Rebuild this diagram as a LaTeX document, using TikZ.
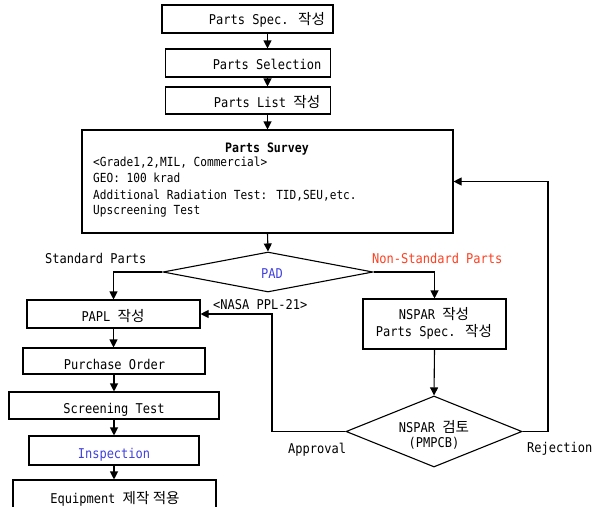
\documentclass[tikz,border=0pt]{standalone}
\usepackage{fontspec}
\setmainfont{DejaVu Sans Mono}[FakeStretch=0.89]
\newfontfamily\kr{Noto Sans CJK KR}[Scale=1.08]
\usetikzlibrary{arrows.meta,shapes.geometric}
\definecolor{pblue}{RGB}{64,64,224}
\definecolor{pred}{RGB}{255,64,32}
\tikzset{
  box/.style={draw, rectangle, line width=1.1pt, inner sep=0pt},
  dia/.style={draw, diamond, line width=1.1pt, inner sep=0pt},
  lbl/.style={inner sep=0pt, anchor=base, font=\fontsize{13.5}{16}\selectfont},
  lblw/.style={inner sep=0pt, anchor=base west, font=\fontsize{13.5}{16}\selectfont},
  sml/.style={inner sep=0pt, anchor=base west, font=\fontsize{12.5}{16}\selectfont},
  arr/.style={draw, line width=1.1pt, -{Triangle[length=8pt,width=8pt]}},
  ln/.style={draw, line width=1.1pt},
}
\begin{document}
\begin{tikzpicture}[x=1pt,y=-1pt]
\useasboundingbox (0,0) rectangle (601,506);
\clip (0,0) rectangle (601,506);
% boxes
\node[box, minimum width=171pt, minimum height=28pt] (b1) at (247.5,19) {};
\node[box, minimum width=165pt, minimum height=28pt] (b2) at (248,63) {};
\node[box, minimum width=165pt, minimum height=27pt] (b3) at (248,100.5) {};
\node[box, minimum width=371pt, minimum height=103pt] (sv) at (267.5,181.5) {};
\node[dia, minimum width=210pt, minimum height=40pt] (pad) at (268,272) {};
\node[box, minimum width=173pt, minimum height=28pt] (papl) at (113.5,314) {};
\node[box, minimum width=182pt, minimum height=26pt] (po) at (114,361) {};
\node[box, minimum width=210pt, minimum height=27pt] (st) at (114,405.5) {};
\node[box, minimum width=170pt, minimum height=29pt] (ins) at (114,450.5) {};
\node[box, minimum width=203pt, minimum height=50pt] (eq) at (114.5,505) {};
\node[box, minimum width=143pt, minimum height=50pt] (nspar) at (434.5,324) {};
\node[dia, minimum width=176pt, minimum height=71pt] (nd) at (434,431.5) {};
% texts
\node[lbl] (t1) at (267,24) {Parts Spec. {\kr 작성}};
\node[lbl] (t2) at (267,69) {Parts Selection};
\node[lbl] (t3) at (267,107) {Parts List {\kr 작성}};
\node[lbl, font=\fontsize{13}{16}\selectfont\bfseries] (t4) at (267,152) {Parts Survey};
\node[sml] (s1) at (93,166.5) {<Grade1,2,MIL, Commercial>};
\node[sml] (s2) at (93,182.5) {GEO: 100 krad};
\node[sml] (s3) at (93,199) {Additional Radiation Test: TID,SEU,etc.};
\node[sml] (s4) at (93,214.5) {Upscreening Test};
\node[lblw] (stdp) at (45,263) {Standard Parts};
\node[lblw, text=pred] (nstdp) at (372,263) {Non-Standard Parts};
\node[lbl, text=pblue] (tpad) at (272,278) {PAD};
\node[lblw] (nasa) at (213,309) {<NASA PPL-21>};
\node[lbl] (tpapl) at (113,321) {PAPL {\kr 작성}};
\node[lbl] (tpo) at (114.5,369.5) {Purchase Order};
\node[lbl] (tst) at (114,413) {Screening Test};
\node[lbl, text=pblue] (tins) at (114,458) {Inspection};
\node[lbl] (teq) at (115,503) {Equipment {\kr 제작 적용}};
\node[lbl] (tn1) at (434,319.5) {NSPAR {\kr 작성}};
\node[lbl] (tn2) at (434,336) {Parts Spec. {\kr 작성}};
\node[lbl] (tnd1) at (434,432) {NSPAR {\kr 검토}};
\node[lbl] (tnd2) at (434,447.5) {(PMPCB)};
\node[lblw] (tapp) at (288,453) {Approval};
\node[lblw] (trej) at (527,452) {Rejection};
% connectors
\coordinate (apx) at (272,431.5);
\coordinate (rjx) at (548,431.5);
\draw[arr] (b1.south -| sv) -- (b2.north -| sv);
\draw[arr] (b2.south -| sv) -- (b3.north -| sv);
\draw[arr] (b3.south -| sv) -- (sv.north);
\draw[arr] (sv.south) -- (pad.north);
\draw[arr] (pad.west) -| (papl.north);
\draw[arr] (pad.east) -| (nspar.north);
\draw[arr] (nspar.south) -- (nd.north);
\draw[arr] (nd.west) -- (apx) |- (papl.east);
\draw[arr] (nd.east) -- (rjx) |- (sv.east);
\draw[arr] (papl.south) -- (papl.south |- po.north);
\draw[arr] (po.south) -- (po.south |- st.north);
\draw[arr] (st.south) -- (st.south |- ins.north);
\draw[arr] (ins.south) -- (ins.south |- eq.north);
\end{tikzpicture}
\end{document}
